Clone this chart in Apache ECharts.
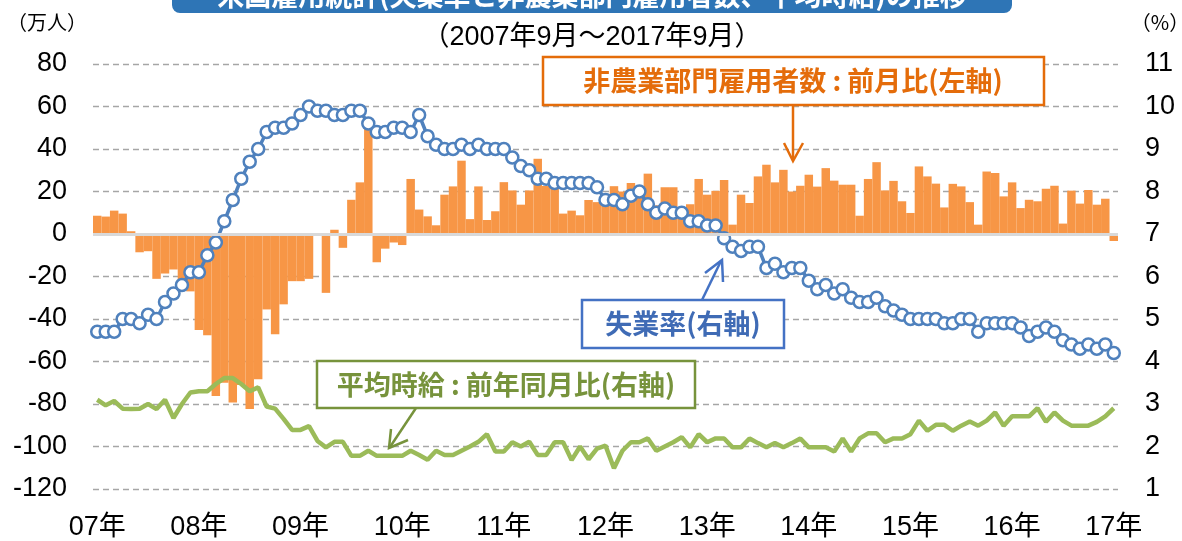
<!DOCTYPE html>
<html>
<head>
<meta charset="utf-8">
<title>米国雇用統計</title>
<script src="https://cdn.jsdelivr.net/npm/echarts@6/dist/echarts.min.js"></script>
<style>
html, body { margin: 0; padding: 0; background: #fff; }
#chart { width: 1182px; height: 541px; }
</style>
</head>
<body>
<div id="chart"></div>
<script>
// 2007年9月〜2017年9月（月次）
var yearLabels = ['07年', '08年', '09年', '10年', '11年', '12年', '13年', '14年', '15年', '16年', '17年'];

// 非農業部門雇用者数：前月比（万人）
var payrolls = [
  8.6, 8.2, 11.0, 9.6, 1.3, -8.6, -8.1, -21.1, -18.6, -16.7,
  -21.6, -27.0, -45.2, -47.7, -76.2, -70.0, -79.3, -71.0, -82.4, -68.4,
  -35.5, -47.2, -33.1, -22.2, -22.2, -21.1, -0.6, -27.7, 2.0, -6.5,
  16.1, 24.3, 50.0, -13.3, -6.9, -4.0, -5.2, 25.9, 11.5, 8.3,
  4.1, 18.5, 22.4, 34.5, 7.0, 22.4, 6.6, 10.7, 24.4, 20.5,
  13.8, 20.5, 35.4, 22.6, 24.3, 9.6, 11.0, 8.8, 16.0, 15.0,
  16.1, 22.5, 20.0, 24.0, 19.0, 28.4, 13.5, 22.0, 22.0, 12.2,
  14.0, 25.9, 18.5, 20.3, 25.4, 4.4, 18.5, 14.6, 27.1, 32.6,
  24.3, 30.2, 20.0, 22.7, 27.9, 22.3, 31.0, 25.1, 23.2, 23.2,
  8.6, 25.9, 33.8, 20.5, 25.0, 15.4, 9.9, 31.8, 27.1, 23.7,
  12.5, 23.6, 22.4, 15.0, 4.4, 29.4, 28.7, 17.7, 24.3, 12.2,
  16.1, 15.4, 21.3, 22.7, 4.9, 20.4, 14.3, 20.7, 13.8, 16.6,
  -3.3
];

// 失業率（%）
var unemployment = [
  4.7, 4.7, 4.7, 5.0, 5.0, 4.9, 5.1, 5.0, 5.4, 5.6,
  5.8, 6.1, 6.1, 6.5, 6.8, 7.3, 7.8, 8.3, 8.7, 9.0,
  9.4, 9.5, 9.5, 9.6, 9.8, 10.0, 9.9, 9.9, 9.8, 9.8,
  9.9, 9.9, 9.6, 9.4, 9.4, 9.5, 9.5, 9.4, 9.8, 9.3,
  9.1, 9.0, 9.0, 9.1, 9.0, 9.1, 9.0, 9.0, 9.0, 8.8,
  8.6, 8.5, 8.3, 8.3, 8.2, 8.2, 8.2, 8.2, 8.2, 8.1,
  7.8, 7.8, 7.7, 7.9, 8.0, 7.7, 7.5, 7.6, 7.5, 7.5,
  7.3, 7.3, 7.2, 7.2, 6.9, 6.7, 6.6, 6.7, 6.7, 6.2,
  6.3, 6.1, 6.2, 6.2, 5.9, 5.7, 5.8, 5.6, 5.7, 5.5,
  5.4, 5.4, 5.5, 5.3, 5.2, 5.1, 5.0, 5.0, 5.0, 5.0,
  4.9, 4.9, 5.0, 5.0, 4.7, 4.9, 4.9, 4.9, 4.9, 4.8,
  4.6, 4.7, 4.8, 4.7, 4.5, 4.4, 4.3, 4.4, 4.3, 4.4,
  4.2
];

// 平均時給：前年同月比（%）
var wages = [
  3.10, 2.97, 3.07, 2.89, 2.88, 2.89, 3.00, 2.88, 3.10, 2.67,
  3.00, 3.27, 3.30, 3.30, 3.47, 3.61, 3.61, 3.47, 3.30, 3.39,
  2.94, 2.89, 2.65, 2.39, 2.39, 2.48, 2.13, 1.98, 2.11, 2.11,
  1.78, 1.78, 1.90, 1.78, 1.78, 1.78, 1.78, 1.90, 1.80, 1.69,
  1.90, 1.80, 1.80, 1.90, 2.00, 2.11, 2.29, 1.88, 1.88, 2.10,
  2.00, 2.11, 1.80, 1.80, 2.10, 2.10, 1.68, 2.00, 1.70, 1.95,
  2.02, 1.49, 1.90, 2.10, 2.10, 2.19, 1.90, 2.00, 2.10, 2.22,
  1.98, 2.29, 2.10, 2.19, 2.19, 1.98, 1.98, 2.19, 2.08, 1.98,
  2.08, 1.98, 2.08, 2.19, 1.98, 1.98, 1.98, 1.88, 2.19, 1.88,
  2.19, 2.31, 2.31, 2.10, 2.19, 2.19, 2.29, 2.61, 2.37, 2.51,
  2.51, 2.37, 2.49, 2.59, 2.49, 2.61, 2.80, 2.49, 2.71, 2.71,
  2.71, 2.90, 2.58, 2.80, 2.61, 2.49, 2.49, 2.49, 2.58, 2.71,
  2.90
];

var months = [];
for (var i = 0; i < payrolls.length; i++) {
  var m = 9 + i;
  months.push((2007 + Math.floor((m - 1) / 12)) + '/' + (((m - 1) % 12) + 1));
}

var numFont = '"Liberation Sans", Arial, "Noto Sans CJK JP", sans-serif';
var jpFont = '"Noto Sans CJK JP", sans-serif';

var chart = echarts.init(document.getElementById('chart'));
chart.setOption({
  animation: false,
  grid: { left: 93, right: 64, top: 64, bottom: 51 },
  xAxis: {
    type: 'category',
    data: months,
    boundaryGap: true,
    axisLine: { show: false },
    axisTick: { show: false },
    axisLabel: {
      interval: function (index) { return index % 12 === 0; },
      formatter: function (value, index) { return yearLabels[index / 12]; },
      fontSize: 27,
      fontFamily: numFont,
      color: '#000',
      margin: 25
    }
  },
  yAxis: [
    {
      type: 'value',
      min: -120,
      max: 80,
      interval: 20,
      axisLine: { show: false },
      axisTick: { show: false },
      axisLabel: { fontSize: 27, fontFamily: numFont, color: '#000', margin: 26 },
      splitLine: { lineStyle: { type: [6, 4], color: '#A6A6A6', width: 1.3 } }
    },
    {
      type: 'value',
      min: 1,
      max: 11,
      interval: 1,
      position: 'right',
      axisLine: { show: false },
      axisTick: { show: false },
      axisLabel: { fontSize: 27, fontFamily: numFont, color: '#000', margin: 27 },
      splitLine: { show: false }
    }
  ],
  series: [
    {
      name: '非農業部門雇用者数',
      type: 'bar',
      data: payrolls,
      barCategoryGap: '0%',
      itemStyle: { color: '#F79646' },
      z: 1,
      markLine: {
        silent: true,
        symbol: 'none',
        label: { show: false },
        lineStyle: { color: '#D9D9D9', width: 3, type: 'solid' },
        data: [{ yAxis: 0 }]
      }
    },
    {
      name: '平均時給',
      type: 'line',
      yAxisIndex: 1,
      data: wages,
      showSymbol: false,
      lineStyle: { color: '#9BBB59', width: 4.5 },
      itemStyle: { color: '#9BBB59' },
      z: 3
    },
    {
      name: '失業率',
      type: 'line',
      yAxisIndex: 1,
      data: unemployment,
      symbol: 'circle',
      symbolSize: 12,
      showAllSymbol: true,
      lineStyle: { color: '#4F81BD', width: 3.5 },
      itemStyle: { color: '#FFFFFF', borderColor: '#4F81BD', borderWidth: 2.5 },
      z: 4
    }
  ],
  graphic: [
    // title banner (cut at top)
    { type: 'rect', z: 100, shape: { x: 172, y: -30, width: 840, height: 43, r: 8 }, style: { fill: '#2E75B6' } },
    { type: 'text', z: 101, x: 592, y: -4, style: { text: '米国雇用統計(失業率と非農業部門雇用者数、平均時給)の推移', fill: '#FFFFFF', font: 'bold 27px ' + jpFont, textAlign: 'center', textVerticalAlign: 'middle' } },
    { type: 'text', z: 101, x: 592, y: 38, style: { text: '（2007年9月～2017年9月）', fill: '#000', font: '27px ' + numFont, textAlign: 'center', textVerticalAlign: 'middle' } },
    { type: 'text', z: 101, x: 47, y: 22, style: { text: '（万人）', fill: '#000', font: '20px ' + jpFont, textAlign: 'center', textVerticalAlign: 'middle' } },
    { type: 'text', z: 101, x: 1160, y: 22, style: { text: '（%）', fill: '#000', font: '20px ' + jpFont, textAlign: 'center', textVerticalAlign: 'middle' } },

    // 非農業部門雇用者数
    { type: 'rect', z: 100, shape: { x: 543, y: 57, width: 501, height: 48 }, style: { fill: '#FFFFFF', stroke: '#E46C0A', lineWidth: 2.5 } },
    { type: 'text', z: 101, x: 793, y: 81, style: { text: '非農業部門雇用者数 : 前月比(左軸)', fill: '#E46C0A', font: 'bold 27px ' + jpFont, textAlign: 'center', textVerticalAlign: 'middle' } },
    { type: 'line', z: 100, shape: { x1: 793, y1: 105, x2: 793, y2: 160 }, style: { stroke: '#E46C0A', lineWidth: 2.5 } },
    { type: 'polyline', z: 100, shape: { points: [[784, 143], [793, 161], [803, 143]] }, style: { stroke: '#E46C0A', lineWidth: 2.5, fill: null } },

    // 失業率
    { type: 'rect', z: 100, shape: { x: 582, y: 300, width: 202, height: 48 }, style: { fill: '#FFFFFF', stroke: '#4472C4', lineWidth: 2.5 } },
    { type: 'text', z: 101, x: 683, y: 324, style: { text: '失業率(右軸)', fill: '#3F6BB5', font: 'bold 27px ' + jpFont, textAlign: 'center', textVerticalAlign: 'middle' } },
    { type: 'line', z: 100, shape: { x1: 702, y1: 300, x2: 721, y2: 261 }, style: { stroke: '#4472C4', lineWidth: 2.5 } },
    { type: 'polyline', z: 100, shape: { points: [[705, 273], [722, 260], [723, 282]] }, style: { stroke: '#4472C4', lineWidth: 2.5, fill: null } },

    // 平均時給
    { type: 'rect', z: 100, shape: { x: 317, y: 361, width: 378, height: 47 }, style: { fill: '#FFFFFF', stroke: '#77933C', lineWidth: 2.5 } },
    { type: 'text', z: 101, x: 506, y: 385, style: { text: '平均時給 : 前年同月比(右軸)', fill: '#77933C', font: 'bold 27px ' + jpFont, textAlign: 'center', textVerticalAlign: 'middle' } },
    { type: 'line', z: 100, shape: { x1: 416, y1: 408, x2: 390, y2: 447 }, style: { stroke: '#77933C', lineWidth: 2.5 } },
    { type: 'polyline', z: 100, shape: { points: [[391, 429], [389, 448], [408, 440]] }, style: { stroke: '#77933C', lineWidth: 2.5, fill: null } }
  ]
});
</script>
</body>
</html>
